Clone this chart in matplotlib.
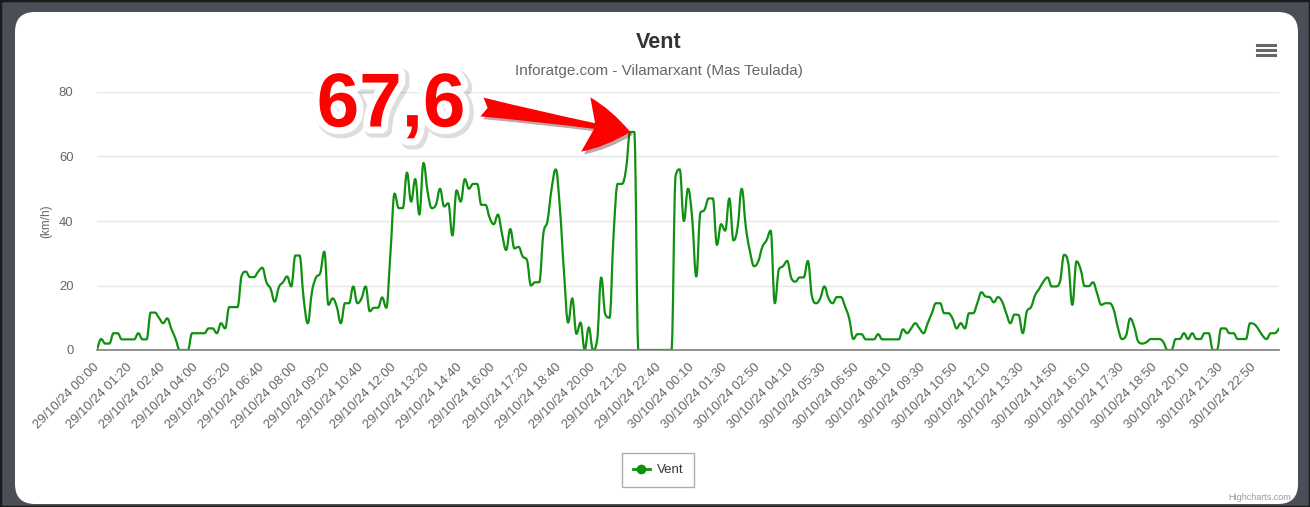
import numpy as np
import matplotlib.pyplot as plt
from matplotlib.patches import FancyBboxPatch, Rectangle, PathPatch
from matplotlib.path import Path
from matplotlib.lines import Line2D
import matplotlib.patheffects as pe

plt.rcParams['font.family'] = ['Liberation Sans', 'DejaVu Sans']

# Vent (km/h), 10 min steps; 29/10 has no 23:50 sample
vent_29 = [0, 3.4, 2, 2, 5.2, 5.2, 3.3, 3.3, 3.3, 3.3, 5.2, 3.3, 3.3, 11.6, 11.6, 10, 8.3, 9.8, 6.5, 3.5,
           0, 0, 0, 5.2, 5.2, 5.2, 5.2, 6.7, 6.7, 5.2, 8.3, 6.7, 13.3, 13.3, 13.3, 23, 24.3, 22.6, 22.6, 24.3,
           25.5, 21, 19, 15, 19.5, 21, 22.8, 19.7, 29.3, 29.3, 16, 8.3, 18, 22.5, 23.8, 30.5, 14, 16, 13.5, 8.3,
           14.5, 14.5, 19.7, 14.5, 16, 19.7, 12, 13.1, 13.1, 16.3, 13.1, 30, 48.5, 44, 44, 55, 46, 53, 42, 58,
           49, 44, 45, 50, 44.5, 45.5, 35.5, 49.5, 46, 53, 50, 51.5, 51.5, 45, 45, 41, 39, 42, 36, 31,
           37.5, 31.5, 32, 29, 28, 20, 21, 21, 36, 40, 50, 56, 44, 24, 8.5, 16, 5, 8.5, 0, 7,
           0, 3, 22.5, 11, 10, 36, 51.5, 51.5, 56, 67.6, 67.6, 0, 0, 0, 0, 0, 0, 0, 0, 0,
           54, 56, 40]
vent_30 = [50, 41, 22.8, 42.5, 43.5, 47, 47, 32.6, 39, 37, 47, 34, 38, 50, 38, 30.5, 26, 27.5, 32, 34,
           37, 14.5, 25, 26, 27.6, 22.3, 21.2, 22.5, 22.5, 27.6, 16.6, 14.5, 16, 19.7, 16, 14.5, 16.4, 16.4, 13.5, 9.8,
           3.4, 4.9, 4.9, 3.3, 3.3, 3.3, 4.9, 3.3, 3.3, 3.3, 3.3, 3.3, 6.4, 5.2, 6.7, 8.3, 6.7, 5.2, 8.3, 11.4,
           14.5, 14.5, 11.4, 11.4, 9.8, 6.7, 8.3, 6.7, 11.4, 11.4, 14.5, 17.9, 16.6, 16.4, 14.8, 16.4, 15, 11.4, 8.3, 11,
           10.8, 5.2, 12, 13.3, 17, 19, 21.2, 22.5, 19.7, 19.7, 21.2, 29.5, 27, 14, 27.5, 25, 19.8, 19.8, 21, 17.5,
           14, 14.5, 14.5, 12.5, 7, 3.4, 4.5, 9.8, 7, 2.5, 2, 2.5, 3.4, 3.4, 3.4, 2.5, 0, 0, 3.4, 3.4,
           5.2, 3.4, 5.2, 3.4, 3.4, 5.2, 5.2, 0, 0, 6.7, 6.7, 5.2, 5.2, 3.4, 3.4, 3.4, 8.3, 8, 6.5, 4.5,
           3.4, 5.2, 5.2, 6.7]

times_29 = ['29/10/24 %02d:%02d' % (h, m) for h in range(24) for m in range(0, 60, 10)][:-1]
times_30 = ['30/10/24 %02d:%02d' % (h, m) for h in range(24) for m in range(0, 60, 10)]

vent = np.array(vent_29 + vent_30)
categories = times_29 + times_30
x = np.arange(len(vent))


def spline_path(xs, ys, s=1.5):
    # bezier path through the points, same idea as a highcharts spline
    n = len(xs)
    lc, rc = [], []
    for i in range(n):
        if 0 < i < n - 1:
            d = s + 1
            lx, ly = (s * xs[i] + xs[i - 1]) / d, (s * ys[i] + ys[i - 1]) / d
            rx, ry = (s * xs[i] + xs[i + 1]) / d, (s * ys[i] + ys[i + 1]) / d
            corr = (ry - ly) * (rx - xs[i]) / (rx - lx) + ys[i] - ry
            ly += corr
            ry += corr
            if ly > max(ys[i - 1], ys[i]):
                ly = max(ys[i - 1], ys[i]); ry = 2 * ys[i] - ly
            elif ly < min(ys[i - 1], ys[i]):
                ly = min(ys[i - 1], ys[i]); ry = 2 * ys[i] - ly
            if ry > max(ys[i + 1], ys[i]):
                ry = max(ys[i + 1], ys[i]); ly = 2 * ys[i] - ry
            elif ry < min(ys[i + 1], ys[i]):
                ry = min(ys[i + 1], ys[i]); ly = 2 * ys[i] - ry
        else:
            lx, ly, rx, ry = xs[i], ys[i], xs[i], ys[i]
        lc.append((lx, ly))
        rc.append((rx, ry))
    verts = [(xs[0], ys[0])]
    codes = [Path.MOVETO]
    for i in range(1, n):
        verts += [rc[i - 1], lc[i], (xs[i], ys[i])]
        codes += [Path.CURVE4] * 3
    return Path(verts, codes)


W, H = 1310, 507
fig = plt.figure(figsize=(W / 100, H / 100), dpi=100, facecolor='#4a4e57')

# white card behind the chart
card = FancyBboxPatch((15, 3), 1283, 492, boxstyle='round,pad=0,rounding_size=20',
                      transform=None, fc='white', ec='none', zorder=-5)
fig.patches.append(card)
fig.patches.append(Rectangle((0, 0), W, H, transform=None, fill=False, ec='#1a1a1a', lw=2.5, zorder=-4))

green = '#109010'
ax = fig.add_axes([97 / W, 157 / H, 1182 / W, 258 / H])
ax.set_facecolor('none')
ax.add_patch(PathPatch(spline_path(x, vent), fill=False, ec=green, lw=1.6, joinstyle='round', capstyle='round'))

ax.set_xlim(0, len(vent) - 1)
ax.set_ylim(0, 80)
ax.set_yticks([0, 20, 40, 60, 80])
ax.set_xticks(x[::8])
ax.set_xticklabels(categories[::8], rotation=45, ha='right', va='center', rotation_mode='anchor')
ax.tick_params(axis='both', length=0, labelcolor='#666666', labelsize=9.4)
ax.tick_params(axis='y', pad=17)
ax.tick_params(axis='x', pad=11)
ax.grid(axis='y', color='#e6e6e6', lw=1)
ax.set_axisbelow(True)
for s in ['top', 'right', 'left']:
    ax.spines[s].set_visible(False)
ax.spines['bottom'].set_color('#7f7f7f')
ax.spines['bottom'].set_linewidth(1.2)

ax.set_ylabel('(km/h)', color='#666666', fontsize=8.5)
ax.yaxis.set_label_coords(-(97 - 52) / 1182, 0.5)

fig.text(659 / W, 1 - 43 / H, 'Vent', ha='center', va='center', fontsize=15.5, fontweight='bold', color='#333333')
fig.text(659 / W, 1 - 71 / H, 'Inforatge.com - Vilamarxant (Mas Teulada)', ha='center', va='center',
         fontsize=11, color='#666666')

handle = Line2D([], [], color=green, lw=2, marker='o', markersize=6)
leg = ax.legend([handle], ['Vent'], loc='center', bbox_to_anchor=(658 / W, 1 - 470 / H),
                bbox_transform=fig.transFigure, frameon=True, fancybox=False, fontsize=9.5,
                handlelength=1.3, handletextpad=0.5, borderpad=0.85, labelcolor='#333333')
leg.get_frame().set_edgecolor('#999999')
leg.get_frame().set_linewidth(1)

fig.text(1291 / W, 1 - 498 / H, 'Highcharts.com', ha='right', va='center', fontsize=6.5, color='#999999')

# context menu icon
for yy in [45, 50, 55]:
    fig.add_artist(Line2D([1257, 1275], [H - yy, H - yy], transform=None, color='#666666', lw=2.2))

# peak annotation
peak_i = int(np.argmax(vent))
fig.text(391 / W, 1 - 107 / H, '67,6', ha='center', va='center', fontsize=55, fontweight='bold',
         color='#ff0000', zorder=10,
         path_effects=[pe.Stroke(linewidth=12, foreground='#00000022', offset=(2, -2)),
                       pe.Stroke(linewidth=10, foreground='white'), pe.Normal()])
ax.annotate('', xy=(peak_i, vent[peak_i]), xycoords='data', xytext=(482, H - 107), textcoords='figure pixels',
            annotation_clip=False,
            arrowprops=dict(arrowstyle='fancy,head_length=0.9,head_width=1.1,tail_width=0.38',
                            fc='#ff0000', ec='none', mutation_scale=36, shrinkA=0, shrinkB=0,
                            path_effects=[pe.SimplePatchShadow(offset=(2, -2), alpha=0.35), pe.Normal()]))

fig.savefig('out.png', dpi=100, facecolor=fig.get_facecolor())
